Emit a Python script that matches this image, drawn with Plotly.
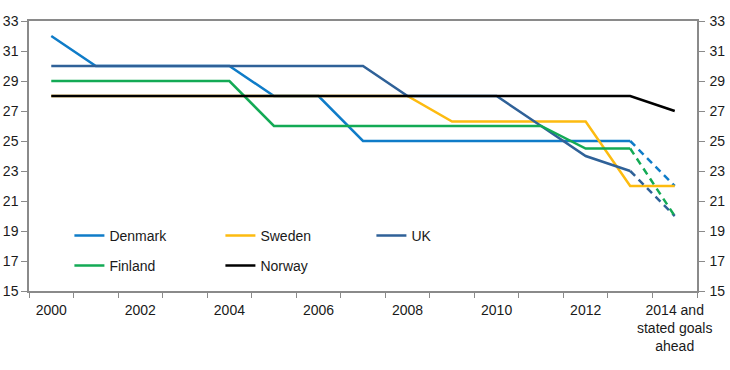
import plotly.graph_objects as go

years = ["2000", "2001", "2002", "2003", "2004", "2005", "2006", "2007",
         "2008", "2009", "2010", "2011", "2012", "2013", "2014"]
tick_labels = ["2000", "", "2002", "", "2004", "", "2006", "", "2008", "",
               "2010", "", "2012", "", "2014 and<br>stated goals<br>ahead"]

denmark = [32, 30, 30, 30, 30, 28, 28, 25, 25, 25, 25, 25, 25, 25, 22]
sweden = [28, 28, 28, 28, 28, 28, 28, 28, 28, 26.3, 26.3, 26.3, 26.3, 22, 22]
uk = [30, 30, 30, 30, 30, 30, 30, 30, 28, 28, 28, 26, 24, 23, 20]
finland = [29, 29, 29, 29, 29, 26, 26, 26, 26, 26, 26, 26, 24.5, 24.5, 20]
norway = [28, 28, 28, 28, 28, 28, 28, 28, 28, 28, 28, 28, 28, 28, 27]

y_ticks = [15, 17, 19, 21, 23, 25, 27, 29, 31, 33]

series = [
    ("Denmark", denmark, "#0f7cc8", True, "legend"),
    ("Sweden", sweden, "#fdbb10", False, "legend"),
    ("UK", uk, "#2f6198", True, "legend"),
    ("Finland", finland, "#13aa55", True, "legend2"),
    ("Norway", norway, "#000000", False, "legend2"),
]

fig = go.Figure()
for name, vals, color, dashed_tail, lg in series:
    if dashed_tail:
        fig.add_trace(go.Scatter(x=years[:-1], y=vals[:-1], mode="lines", name=name,
                                 line=dict(color=color, width=2.5), legend=lg))
        fig.add_trace(go.Scatter(x=years[-2:], y=vals[-2:], mode="lines", name=name,
                                 line=dict(color=color, width=2.5, dash="7px,5px"),
                                 showlegend=False, legend=lg))
    else:
        fig.add_trace(go.Scatter(x=years, y=vals, mode="lines", name=name,
                                 line=dict(color=color, width=2.5), legend=lg))

# invisible trace for right axis
fig.add_trace(go.Scatter(x=years[:1], y=[33], yaxis="y2", mode="lines",
                         showlegend=False, hoverinfo="skip", line=dict(width=0)))

axis_color = "#8a8a8a"
font = dict(family="Liberation Sans, Arial, sans-serif", size=14, color="#1a1a1a")

fig.update_layout(
    width=730, height=370,
    margin=dict(l=29, r=33, t=21, b=79),
    paper_bgcolor="white", plot_bgcolor="white",
    font=font,
    xaxis=dict(type="category", categoryorder="array", categoryarray=years,
               tickmode="array", tickvals=years, ticktext=tick_labels,
               tickson="boundaries", ticks="outside", ticklen=5,
               tickcolor=axis_color, showline=True, linecolor=axis_color,
               linewidth=1.5, mirror=True, showgrid=False, zeroline=False,
               range=[-0.5, 14.5], tickangle=0, automargin=False,
               ticklabelstandoff=5),
    yaxis=dict(range=[15, 33], tickvals=y_ticks, ticks="outside", ticklen=6,
               tickcolor=axis_color, showline=True, linecolor=axis_color,
               linewidth=1.5, showgrid=False, zeroline=False, automargin=False),
    yaxis2=dict(range=[15, 33], tickvals=y_ticks, ticks="outside", ticklen=6,
                tickcolor=axis_color, showline=True, linecolor=axis_color,
                linewidth=1.5, showgrid=False, zeroline=False, overlaying="y",
                side="right", automargin=False, ticklabelstandoff=2),
    legend=dict(orientation="h", x=0.0605, y=0.204, xanchor="left", yanchor="middle",
                entrywidth=106, entrywidthmode="pixels", bgcolor="rgba(0,0,0,0)",
                font=font, traceorder="normal"),
    legend2=dict(orientation="h", x=0.0605, y=0.093, xanchor="left", yanchor="middle",
                 entrywidth=106, entrywidthmode="pixels", bgcolor="rgba(0,0,0,0)",
                 font=font, traceorder="normal"),
    showlegend=True,
)

fig.write_html("out.html", config={"displayModeBar": False},
               post_script="document.body.style.margin='0px';")
